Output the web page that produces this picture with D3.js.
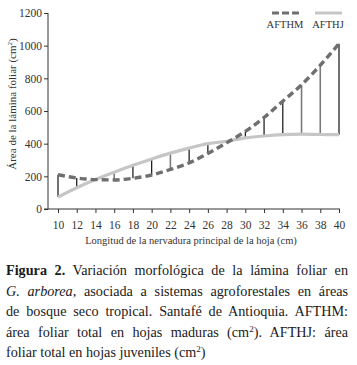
<!DOCTYPE html>
<html><head><meta charset="utf-8">
<script src="https://cdn.jsdelivr.net/npm/d3@7"></script>
<style>
html,body{margin:0;padding:0;background:#fff;}
svg{display:block;}
svg text{font-family:"Liberation Serif","Times New Roman",serif !important;}
</style></head>
<body><svg id="c" width="357" height="365"></svg>
<script>
const lengths = [10,12,14,16,18,20,22,24,26,28,30,32,34,36,38,40];
const afthm = [210,190,180,178,188,208,242,282,340,405,475,560,660,760,880,1012];
const afthj = [73,130,180,225,268,306,342,373,400,415,435,447,455,458,456,455];
const yTicks = [0,200,400,600,800,1000,1200];
const xTicks = lengths;
const seriesNames = ["AFTHM","AFTHJ"];
const grayDrops = [16,22,36,38];

const svg = d3.select("#c");
const x = d3.scaleLinear().domain([10,40]).range([58,339]);
const y = d3.scaleLinear().domain([0,1200]).range([209,13]);
const ink = "#333";

// Y axis
const yAxis = svg.append("g").attr("transform","translate(48,0)")
  .call(d3.axisLeft(y).tickValues(yTicks).tickSize(4).tickPadding(2).tickFormat(d3.format("d")));
yAxis.select(".domain").attr("stroke",ink).attr("d","M0,13V209");
yAxis.selectAll(".tick line").attr("stroke",ink);
yAxis.selectAll("text").attr("font-size",11.5).attr("fill",ink);

// X axis
const xAxis = svg.append("g").attr("transform","translate(0,209)")
  .call(d3.axisBottom(x).tickValues(xTicks).tickSize(4).tickPadding(8));
xAxis.select(".domain").attr("stroke",ink).attr("d","M44,0H340");
xAxis.selectAll(".tick line").attr("stroke",ink);
xAxis.selectAll("text").attr("font-size",11.5).attr("fill",ink);

// axis titles
svg.append("text").attr("transform","translate(16,104) rotate(-90)")
  .attr("text-anchor","middle").attr("font-size",11).attr("fill",ink)
  .html('Área de la lámina foliar (cm<tspan baseline-shift="super" font-size="7">2</tspan>)');
svg.append("text").attr("x",191).attr("y",244).attr("text-anchor","middle")
  .attr("font-size",10.5).attr("fill",ink)
  .text("Longitud de la nervadura principal de la hoja (cm)");

// drop lines
const pts = lengths.map((l,i)=>({l, m:afthm[i], j:afthj[i]}));
svg.append("g").selectAll("line").data(pts).join("line")
  .attr("x1",d=>x(d.l)).attr("x2",d=>x(d.l))
  .attr("y1",d=>y(d.m)).attr("y2",d=>y(d.j))
  .attr("stroke",d=>grayDrops.includes(d.l)?"#7a7a7a":"#111")
  .attr("stroke-width",d=>grayDrops.includes(d.l)?1.6:1.2);

// curves
const lineJ = d3.line().x((d,i)=>x(lengths[i])).y(d=>y(d)).curve(d3.curveMonotoneX);
svg.append("path").datum(afthj).attr("d",lineJ).attr("fill","none")
  .attr("stroke","#c6c6c6").attr("stroke-width",3.2);
svg.append("path").datum(afthm).attr("d",lineJ).attr("fill","none")
  .attr("stroke","#6f6f6f").attr("stroke-width",3.4).attr("stroke-dasharray","7,4");

// legend
const lg = svg.append("g");
lg.append("line").attr("x1",272).attr("x2",299).attr("y1",13).attr("y2",13)
  .attr("stroke","#6f6f6f").attr("stroke-width",3.2).attr("stroke-dasharray","7,3");
lg.append("line").attr("x1",315).attr("x2",342).attr("y1",13).attr("y2",13)
  .attr("stroke","#c6c6c6").attr("stroke-width",3);
lg.append("text").attr("x",285).attr("y",28).attr("text-anchor","middle").attr("font-size",10.5).attr("fill",ink).text(seriesNames[0]);
lg.append("text").attr("x",328).attr("y",28).attr("text-anchor","middle").attr("font-size",10.5).attr("fill",ink).text(seriesNames[1]);

// caption
const capLines = [
  [{t:"Figura 2.",b:true},{t:" Variación morfológica de la lámina foliar en"}],
  [{t:"G. arborea",i:true},{t:", asociada a sistemas agroforestales en áreas"}],
  [{t:"de bosque seco tropical. Santafé de Antioquia. AFTHM:"}],
  [{t:"área foliar total en hojas maduras (cm"},{t:"2",sup:true},{t:"). AFTHJ: área"}],
  [{t:"foliar total en hojas juveniles (cm"},{t:"2",sup:true},{t:")"}]
];
const cap = svg.append("g").attr("fill","#1a1a1a");
capLines.forEach((parts,li)=>{
  const t = cap.append("text").attr("x",6).attr("y",275+li*20.5).attr("font-size",14.2);
  parts.forEach((p,pi)=>{
    const s = t.append("tspan").text(p.t);
    if(p.b) s.attr("font-weight","bold");
    if(p.i) s.attr("font-style","italic");
    if(p.sup) s.attr("font-size",9).attr("dy",-5);
    else if(pi>0 && parts[pi-1].sup) s.attr("dy",5);
  });
  if(li<capLines.length-1){
    const w = t.node().getComputedTextLength();
    const spaces = parts.map(p=>p.t).join("").split(" ").length-1;
    const extra = (348 - 6 - w)/spaces;
    t.attr("word-spacing",extra);
  }
});
</script></body></html>
